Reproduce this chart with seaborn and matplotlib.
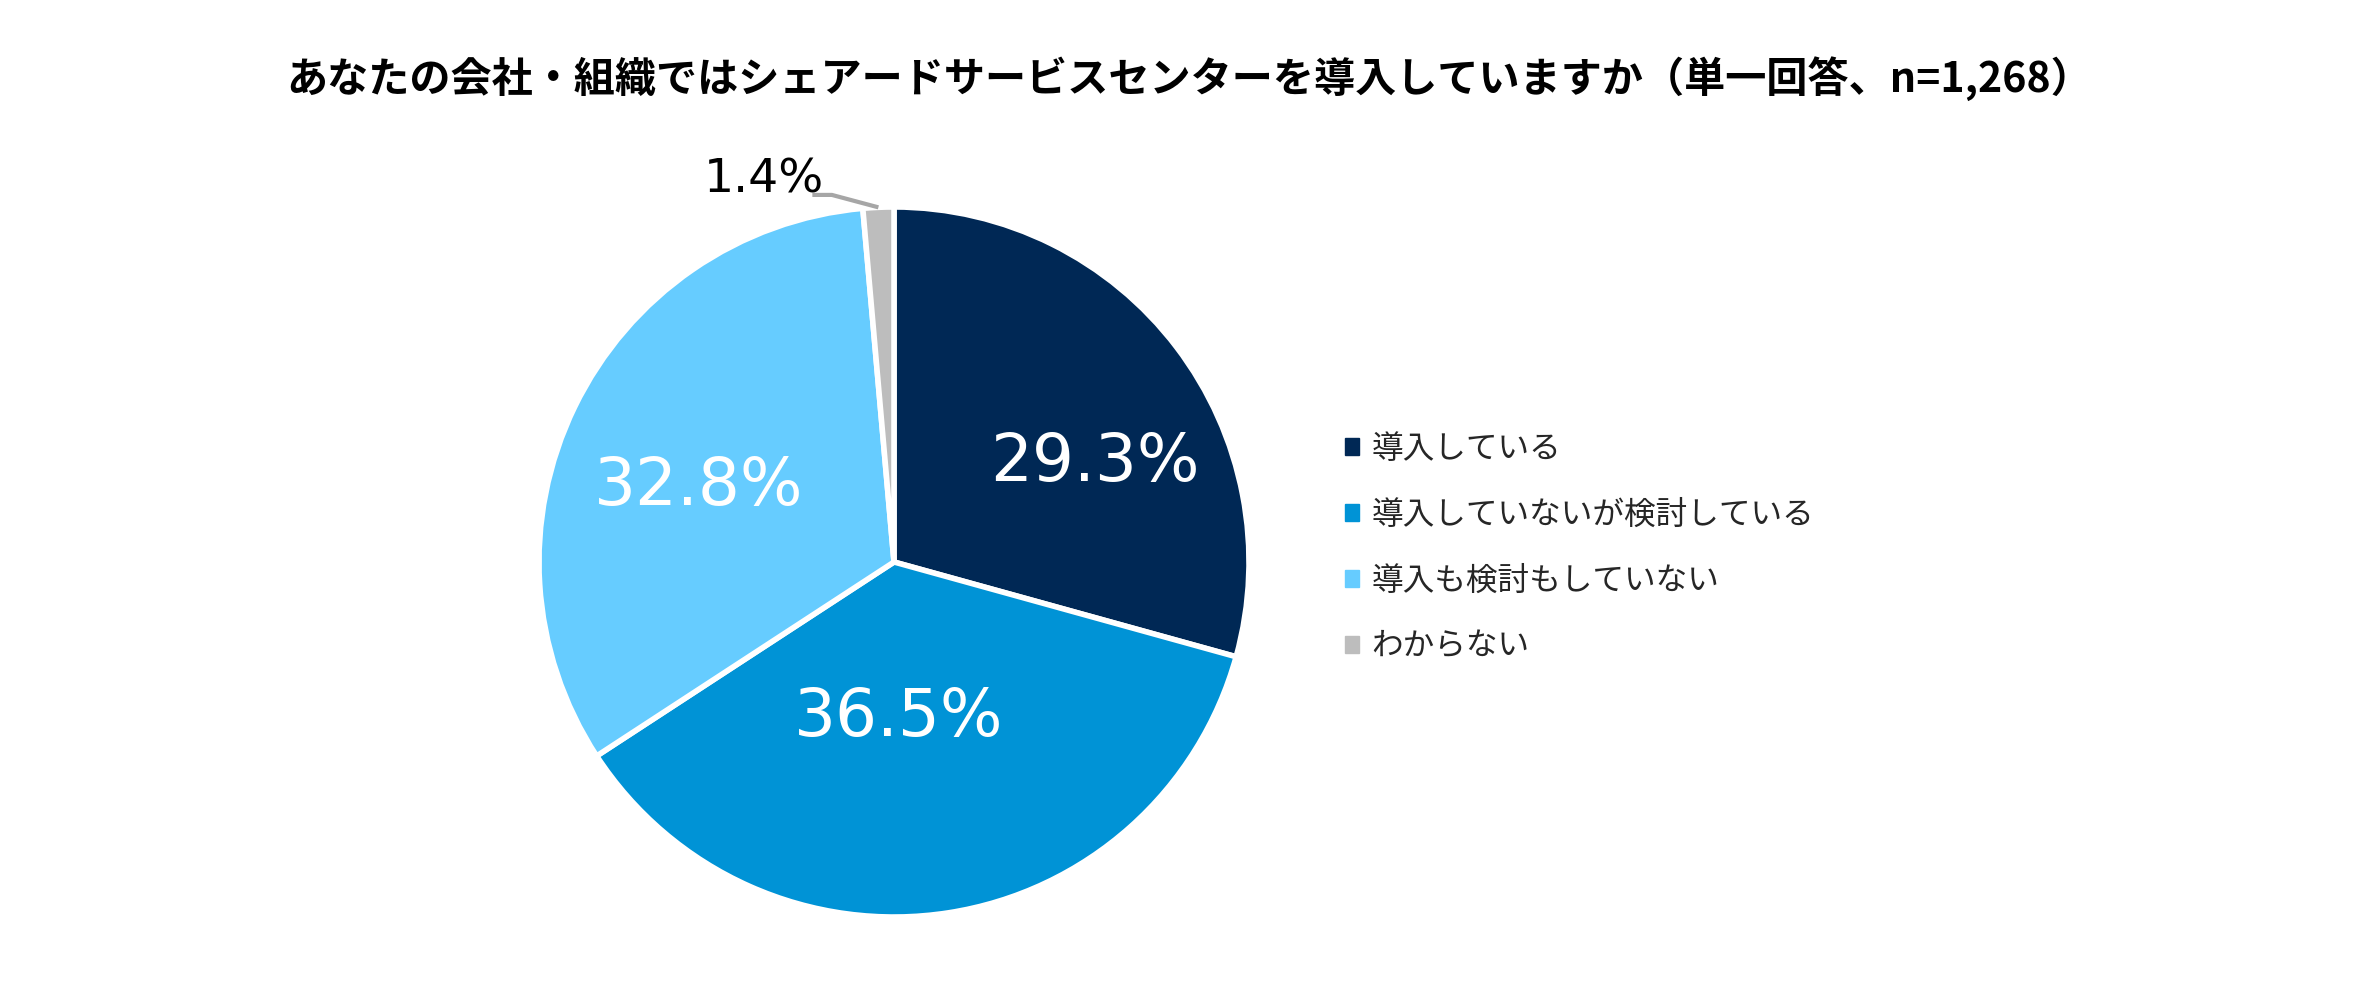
"""Pie chart: shared service center adoption (single answer, n=1,268)."""

import matplotlib

matplotlib.use("Agg")

import matplotlib.pyplot as plt
import numpy as np
import seaborn as sns

title = "あなたの会社・組織ではシェアードサービスセンターを導入していますか（単一回答、n=1,268）"
categories = ["導入している", "導入していないが検討している", "導入も検討もしていない", "わからない"]
shares = [29.3, 36.5, 32.8, 1.4]
colors = ["#002855", "#0093D6", "#66CCFF", "#BDBDBD"]

sns.set_theme(style="white")
plt.rcParams["font.family"] = ["Noto Sans CJK JP", "DejaVu Sans"]

W, H = 2379, 989
fig = plt.figure(figsize=(W / 100, H / 100), dpi=100)

# pie centre / radius in pixels
cx, cy, r = 894, 562, 355
ax = fig.add_axes([(cx - r) / W, (H - cy - r) / H, 2 * r / W, 2 * r / H])

wedges, _ = ax.pie(
    shares,
    colors=colors,
    startangle=90,
    counterclock=False,
    radius=1.0,
    wedgeprops={"edgecolor": "white", "linewidth": 4},
)
ax.set_xlim(-1, 1)
ax.set_ylim(-1, 1)
ax.set_aspect("equal")
ax.axis("off")

# label placement relative to the wedge middle (radius, angle nudge in degrees)
label_r = [0.63, 0.44, 0.59]
label_nudge = [-11, -7, 5]
for i, w in enumerate(wedges[:3]):
    mid = np.deg2rad((w.theta1 + w.theta2) / 2 + label_nudge[i])
    ax.text(label_r[i] * np.cos(mid), label_r[i] * np.sin(mid), f"{shares[i]:.1f}%",
            ha="center", va="center", color="white", fontsize=47.5, family="DejaVu Sans")

# small slice: outside label with leader line
w = wedges[3]
mid = np.deg2rad((w.theta1 + w.theta2) / 2)
ex, ey = np.cos(mid), np.sin(mid)
elbow = (ex - 0.131, ey + 0.035)
ax.plot([ex, elbow[0], elbow[0] - 0.055], [ey, elbow[1], elbow[1]],
        color="#A6A6A6", lw=3, clip_on=False, solid_capstyle="butt")
ax.text(elbow[0] - 0.022, elbow[1] - 0.022, f"{shares[3]:.1f}%", ha="right", va="bottom",
        color="black", fontsize=34, family="DejaVu Sans")

fig.text(0.5, 1 - 79 / H, title, ha="center", va="center",
         fontsize=29.6, fontweight="bold", color="black")

# legend
handles = [plt.Rectangle((0, 0), 1, 1, color=c) for c in colors]
fig.legend(handles, categories, loc="upper left", bbox_to_anchor=(1332 / W, 1 - 420 / H),
           frameon=False, fontsize=22.8, handlelength=0.45, handleheight=0.45,
           handletextpad=0.4, labelspacing=1.07, borderaxespad=0)

fig.savefig("out.png", dpi=100, facecolor="white")
